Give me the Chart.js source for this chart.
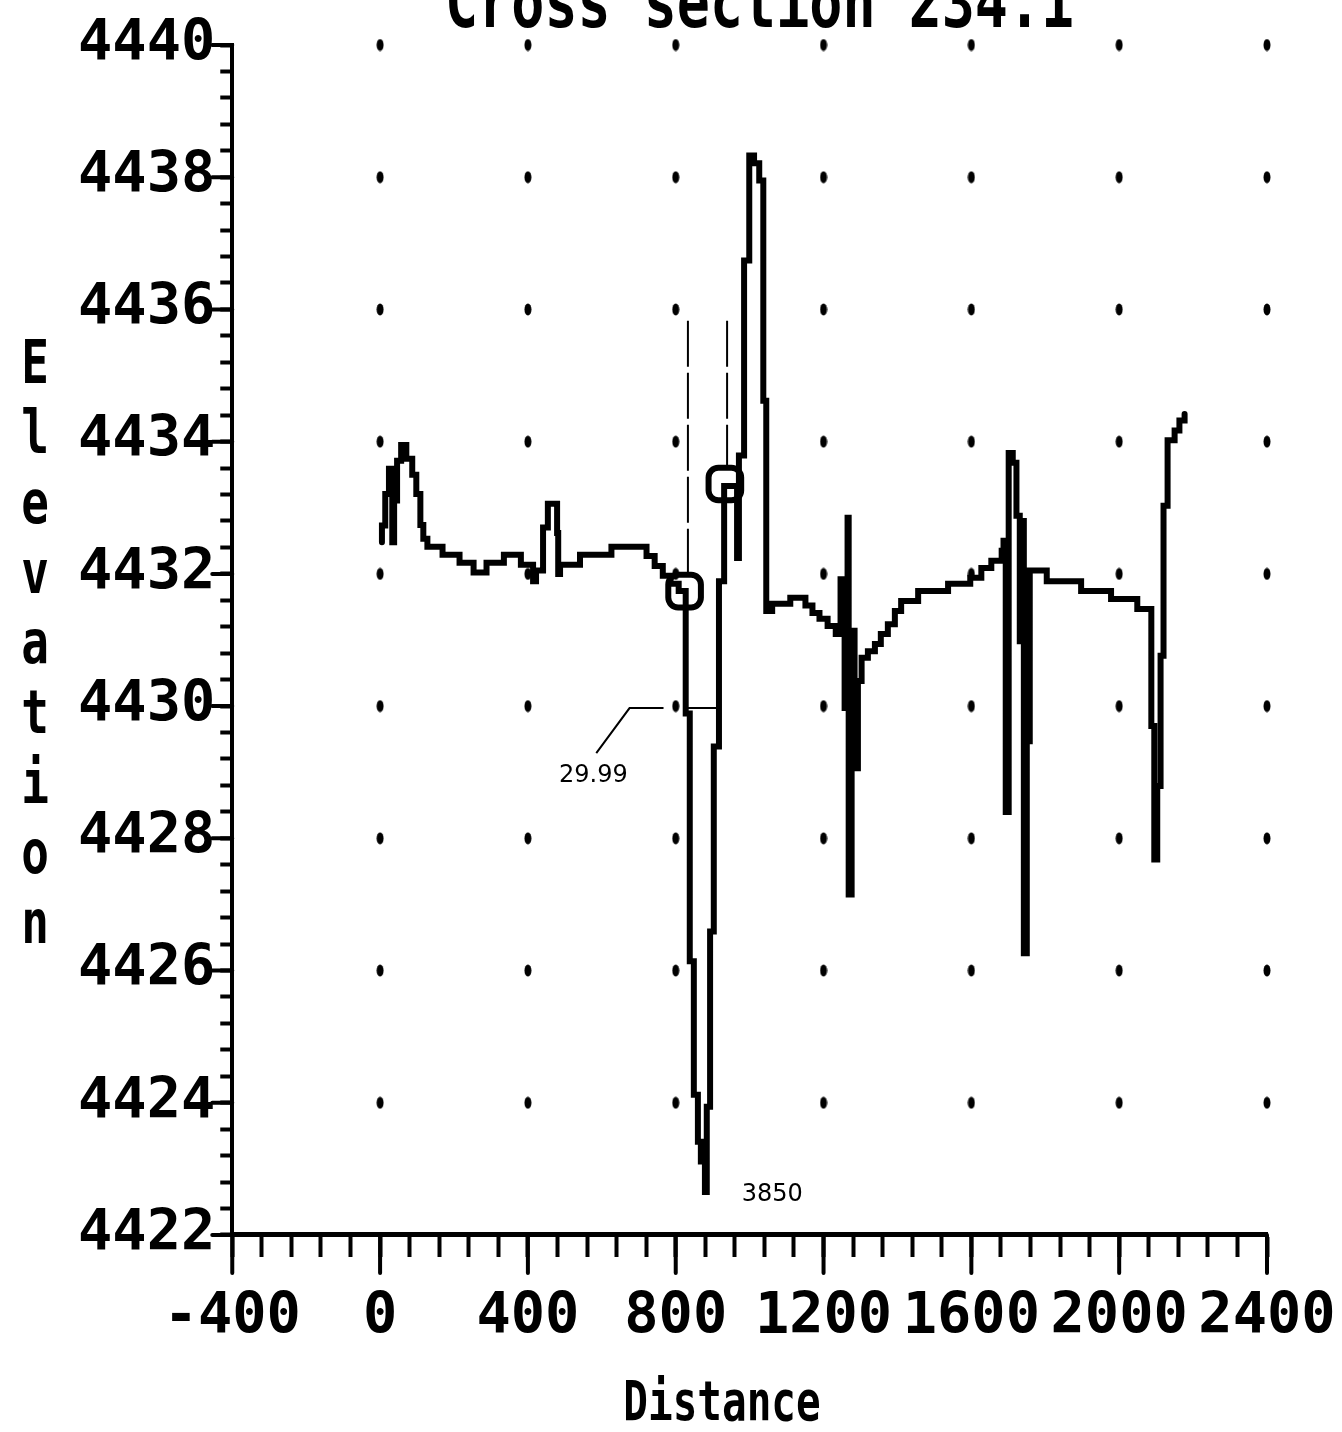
<!DOCTYPE html>
<html>
<head>
<meta charset="utf-8">
<title>Cross section 234.1</title>
<script src="https://cdn.jsdelivr.net/npm/chart.js@4.4.1/dist/chart.umd.min.js"></script>
<style>
  html, body { margin: 0; padding: 0; background: #fff; }
  #chart { display: block; }
</style>
</head>
<body>
<canvas id="chart" width="1342" height="1432"></canvas>
<script>
// profile values (step line, distance / elevation)
const distances = [5, 5, 14, 24, 33, 38, 46, 57, 71, 87, 98, 109, 117, 128, 169, 215, 253, 288, 335, 381,
    414, 422, 441, 454, 479, 482, 487, 541, 626, 721, 743, 765, 786, 808, 827, 827, 838, 849, 860, 868,
    879, 884, 893, 903, 917, 931, 966, 971, 985, 999, 1012, 1026, 1037, 1045, 1061, 1110, 1151, 1170, 1189, 1211,
    1233, 1246, 1257, 1265, 1268, 1276, 1284, 1293, 1303, 1320, 1339, 1355, 1374, 1393, 1410, 1456, 1537, 1597, 1627, 1654,
    1682, 1687, 1693, 1701, 1712, 1722, 1731, 1736, 1742, 1750, 1758, 1804, 1897, 1978, 2049, 2087, 2095, 2103, 2112, 2120,
    2131, 2150, 2163, 2177];
const elevations = [4432.48, 4432.73, 4433.21, 4433.59, 4432.48, 4433.11, 4433.71, 4433.95, 4433.74, 4433.50,
    4433.21, 4432.74, 4432.53, 4432.41, 4432.29, 4432.17, 4432.02, 4432.17, 4432.29, 4432.14,
    4431.89, 4432.05, 4432.70, 4433.06, 4432.62, 4432.00, 4432.14, 4432.29, 4432.41, 4432.27,
    4432.12, 4431.97, 4431.85, 4431.74, 4431.71, 4429.89, 4426.14, 4424.12, 4423.41, 4423.11,
    4422.65, 4423.94, 4426.59, 4429.39, 4431.89, 4433.33, 4432.24, 4433.79, 4436.74, 4438.33,
    4438.21, 4437.95, 4434.62, 4431.44, 4431.55, 4431.64, 4431.52, 4431.41, 4431.32, 4431.21,
    4431.09, 4431.92, 4429.97, 4432.85, 4427.15, 4431.14, 4429.06, 4430.38, 4430.73, 4430.83,
    4430.94, 4431.09, 4431.24, 4431.44, 4431.59, 4431.74, 4431.85, 4431.94, 4432.09, 4432.20,
    4432.35, 4432.50, 4428.40, 4433.83, 4433.68, 4432.88, 4430.98, 4432.80, 4426.26, 4429.47,
    4432.05, 4431.89, 4431.74, 4431.62, 4431.47, 4429.70, 4427.68, 4428.79, 4430.76, 4433.03,
    4434.02, 4434.17, 4434.32, 4434.42];

// bank markers and their guide lines
const markerDistances = [824, 933];
const markerElevations = [4431.74, 4433.36];
const guideTop = 4435.83;
const guideBottoms = [4432.03, 4433.62];
const guideDistances = [833, 939];

// water width line and its leader
const widthDistances = [830, 911];
const widthElevation = 4429.97;
const leaderDistances = [585, 675, 767];
const leaderElevations = [4429.29, 4429.97, 4429.97];

// small notes written on the plot
const noteTexts = ['29.99', '3850'];
const noteDistances = [577, 1061];
const noteElevations = [4428.94, 4422.61];

// tick labels
const xTickLabels = [-400, 0, 400, 800, 1200, 1600, 2000, 2400];
const yTickLabels = [4422, 4424, 4426, 4428, 4430, 4432, 4434, 4436, 4438, 4440];

// dotted grid
const gridDistances = [0, 400, 800, 1200, 1600, 2000, 2400];
const gridElevations = [4424, 4426, 4428, 4430, 4432, 4434, 4436, 4438, 4440];

const titleText = 'Cross section 234.1';
const xTitle = 'Distance';
const yTitle = 'Elevation';

const MONO = '"DejaVu Sans Mono", monospace';

// elongated dot used for the grid marks
const dot = document.createElement('canvas');
dot.width = 8;
dot.height = 13;
const dctx = dot.getContext('2d');
dctx.fillStyle = '#000';
dctx.beginPath();
dctx.ellipse(4, 6.5, 3.5, 6, 0, 0, Math.PI * 2);
dctx.fill();

const gridPoints = [];
gridDistances.forEach(d => gridElevations.forEach(e => gridPoints.push({ x: d, y: e })));

const profile = distances.map((d, i) => ({ x: d, y: elevations[i] }));
const markers = markerDistances.map((d, i) => ({ x: d, y: markerElevations[i] }));

function isLabel(list, v) {
    return list.some(l => Math.abs(l - v) < 1e-6);
}

const overlay = {
    id: 'overlay',
    afterDraw(chart) {
        const ctx = chart.ctx;
        const area = chart.chartArea;
        const xs = chart.scales.x;
        const ys = chart.scales.y;
        ctx.save();
        ctx.strokeStyle = '#000';
        ctx.fillStyle = '#000';
        ctx.lineCap = 'round';
        ctx.lineWidth = 4;

        // longer ticks where there is a label
        ctx.beginPath();
        xTickLabels.forEach(v => {
            const px = xs.getPixelForValue(v);
            ctx.moveTo(px, area.bottom);
            ctx.lineTo(px, area.bottom + 38);
        });
        yTickLabels.forEach(v => {
            const py = ys.getPixelForValue(v);
            ctx.moveTo(area.left - 20, py);
            ctx.lineTo(area.left, py);
        });
        ctx.stroke();

        // title, cut by the top edge
        ctx.save();
        ctx.font = 'bold 55px ' + MONO;
        ctx.textAlign = 'center';
        ctx.textBaseline = 'alphabetic';
        ctx.translate((area.left + area.right) / 2 + 10, 27);
        ctx.scale(1, 1.3);
        ctx.fillText(titleText, 0, 0);
        ctx.restore();

        // x title
        ctx.save();
        ctx.font = 'bold 41px ' + MONO;
        ctx.textAlign = 'center';
        ctx.textBaseline = 'alphabetic';
        ctx.translate(722, 1420);
        ctx.scale(1, 1.35);
        ctx.fillText(xTitle, 0, 0);
        ctx.restore();

        // y title, upright letters stacked
        ctx.font = 'bold 46px ' + MONO;
        ctx.textAlign = 'center';
        ctx.textBaseline = 'alphabetic';
        yTitle.split('').forEach((ch, i) => {
            ctx.save();
            ctx.translate(35, 383 + i * 70);
            ctx.scale(1, 1.3);
            ctx.fillText(ch, 0, 0);
            ctx.restore();
        });

        // notes
        ctx.font = '24px "DejaVu Sans", sans-serif';
        ctx.textAlign = 'center';
        ctx.textBaseline = 'middle';
        noteTexts.forEach((t, i) => {
            ctx.fillText(t, xs.getPixelForValue(noteDistances[i]), ys.getPixelForValue(noteElevations[i]));
        });
        ctx.restore();
    }
};

const ctx = document.getElementById('chart').getContext('2d');
new Chart(ctx, {
    type: 'line',
    data: {
        datasets: [{
            data: profile,
            borderColor: '#000',
            borderWidth: 6,
            stepped: true,
            pointRadius: 0,
            borderJoinStyle: 'miter',
            borderCapStyle: 'round',
            order: 2
        }, {
            type: 'scatter',
            data: gridPoints,
            pointStyle: dot,
            pointRadius: 5,
            clip: false,
            order: 5
        }, {
            data: markers,
            showLine: false,
            pointStyle: 'rectRounded',
            pointRadius: 19,
            pointBorderWidth: 6,
            pointBorderColor: '#000',
            pointBackgroundColor: 'rgba(0,0,0,0)',
            order: 1
        }, {
            data: [{ x: guideDistances[0], y: guideTop }, { x: guideDistances[0], y: guideBottoms[0] }],
            borderColor: '#000',
            borderWidth: 2,
            borderDash: [46, 6],
            pointRadius: 0,
            order: 3
        }, {
            data: [{ x: guideDistances[1], y: guideTop }, { x: guideDistances[1], y: guideBottoms[1] }],
            borderColor: '#000',
            borderWidth: 2,
            borderDash: [46, 6],
            pointRadius: 0,
            order: 3
        }, {
            data: widthDistances.map(d => ({ x: d, y: widthElevation })),
            borderColor: '#000',
            borderWidth: 2,
            pointRadius: 0,
            order: 3
        }, {
            data: leaderDistances.map((d, i) => ({ x: d, y: leaderElevations[i] })),
            borderColor: '#000',
            borderWidth: 2,
            pointRadius: 0,
            order: 3
        }]
    },
    options: {
        responsive: false,
        animation: false,
        layout: {
            padding: { left: 73, right: 75, top: 45, bottom: 53 }
        },
        plugins: {
            legend: { display: false },
            tooltip: { enabled: false }
        },
        scales: {
            x: {
                type: 'linear',
                min: -400,
                max: 2400,
                grid: { drawOnChartArea: false, tickLength: 22, tickWidth: 4, tickColor: '#000' },
                border: { color: '#000', width: 5 },
                ticks: {
                    stepSize: 80,
                    autoSkip: false,
                    maxRotation: 0,
                    minRotation: 0,
                    padding: 6,
                    color: '#000',
                    font: { family: MONO, size: 57, weight: 'bold', lineHeight: 1.93 },
                    callback: v => isLabel(xTickLabels, v) ? String(Math.round(v)) : ''
                }
            },
            y: {
                min: 4422,
                max: 4440,
                grid: { drawOnChartArea: false, tickLength: 12, tickWidth: 4, tickColor: '#000' },
                border: { color: '#000', width: 4 },
                ticks: {
                    stepSize: 0.4,
                    autoSkip: false,
                    padding: 5,
                    color: '#000',
                    font: { family: MONO, size: 57, weight: 'bold' },
                    callback: v => isLabel(yTickLabels, v) ? String(Math.round(v)) : ''
                }
            }
        }
    },
    plugins: [overlay]
});
</script>
</body>
</html>
